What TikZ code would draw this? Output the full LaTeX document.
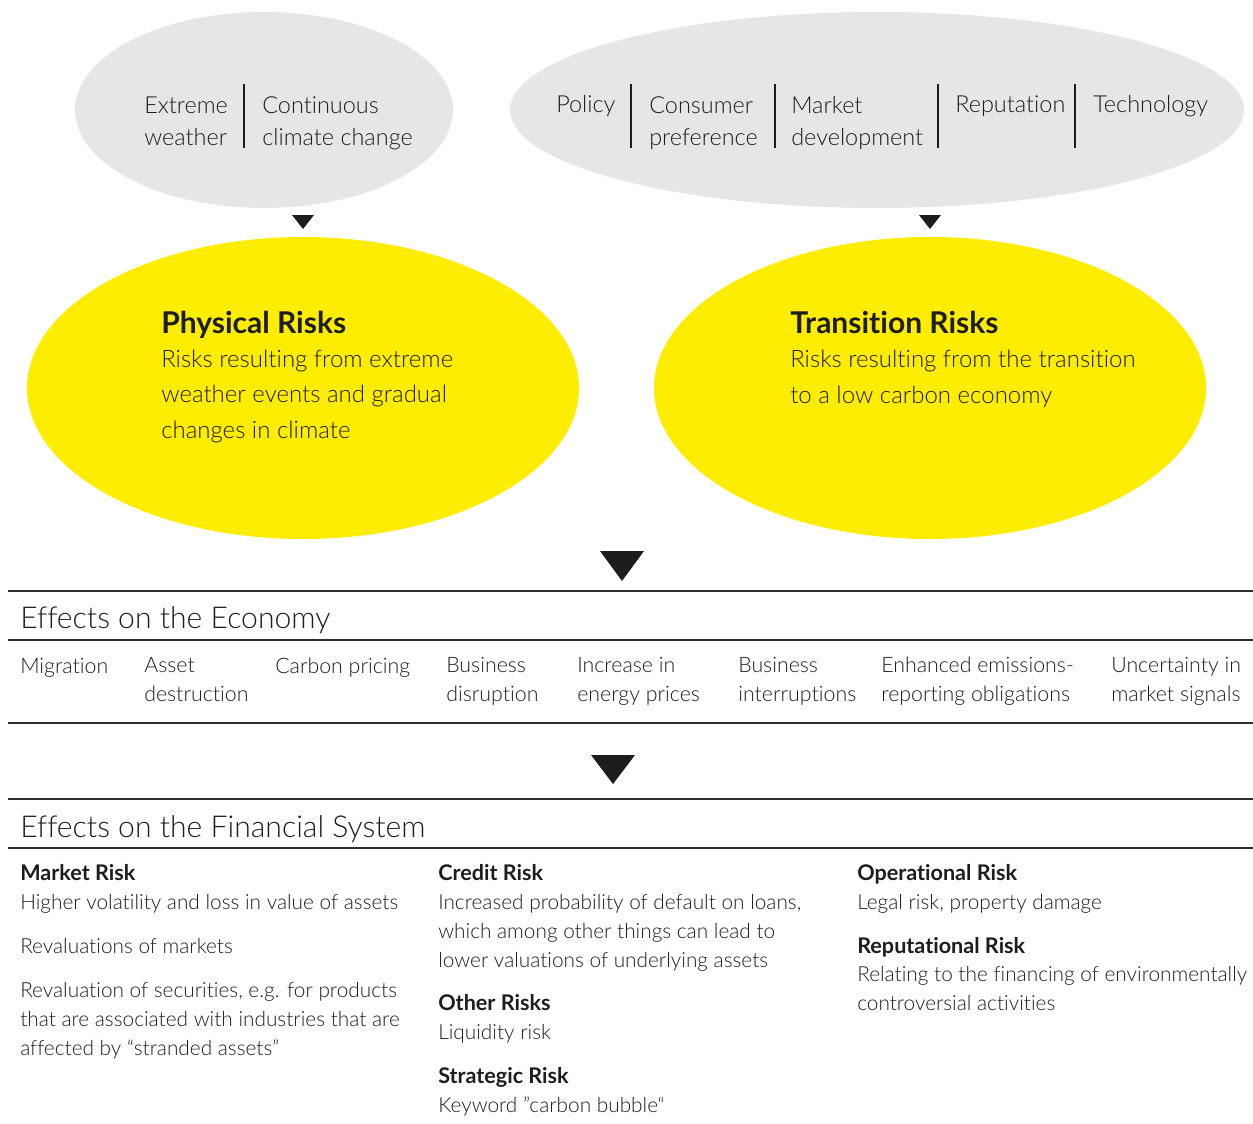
\documentclass[tikz,border=0pt]{standalone}
\usepackage{fontspec}
\setmainfont{Lato}[UprightFont=* Light, BoldFont=* Bold, Ligatures=NoCommon]
\usetikzlibrary{shapes.geometric}
\definecolor{ink}{HTML}{1D1D1B}
\definecolor{rule}{HTML}{2E2E2E}
\definecolor{greyfill}{HTML}{E5E6E8}
\definecolor{yel}{HTML}{FFED00}
\begin{document}
\begin{tikzpicture}[x=0.75pt,y=-0.75pt,
  blob/.style={ellipse, inner sep=0, draw=none},
  src/.style={anchor=base west, inner sep=0, text=ink, align=left, font=\fontsize{17.6}{24}\selectfont},
  risktitle/.style={anchor=base west, inner sep=0, text=ink, font=\bfseries\fontsize{22.5}{27}\selectfont},
  riskbody/.style={anchor=base west, inner sep=0, text=ink, align=left, font=\fontsize{18}{26.5}\selectfont},
  head/.style={anchor=base west, inner sep=0, text=ink, font=\fontsize{22.6}{27}\selectfont},
  item/.style={anchor=base west, inner sep=0, text=ink, align=left, font=\fontsize{16}{21.5}\selectfont},
  fhead/.style={anchor=base west, inner sep=0, text=ink, font=\bfseries\fontsize{16.2}{21.75}\selectfont},
  fbody/.style={anchor=base west, inner sep=0, text=ink, align=left, font=\fontsize{15.6}{21.75}\selectfont},
  sep/.style={draw=ink, line width=0.8pt},
  hrule/.style={draw=rule, line width=1.9pt},
  tri/.style={fill=ink}
]
\useasboundingbox (0,0) rectangle (1253,1124);

% top ellipses
\node[blob, fill=greyfill, minimum width=283.5pt, minimum height=147pt] (phsrc) at (264,110) {};
\node[blob, fill=greyfill, minimum width=550.5pt, minimum height=147pt] (trsrc) at (877,110) {};

% multi-line nodes: base anchor = last line's baseline
\node[src] (s1) at (144,145) {Extreme\\weather};
\node[src] (s2) at (262,145) {Continuous\\climate change};
\draw[sep] (244,84) -- (244,148);

\node[src] (s3) at (556,113) {Policy};
\node[src] (s4) at (649,145) {Consumer\\preference};
\node[src] (s5) at (791,145) {Market\\development};
\node[src] (s6) at (955,113) {Reputation};
\node[src] (s7) at (1093,113) {Technology};
\draw[sep] (631,84) -- (631,148);
\draw[sep] (775,84) -- (775,148);
\draw[sep] (938,84) -- (938,148);
\draw[sep] (1075,84) -- (1075,148);

% small triangles
\fill[tri] (292,215) -- (314,215) -- (303,229) -- cycle;
\fill[tri] (919,215) -- (941,215) -- (930,229) -- cycle;

% yellow ellipses
\node[blob, fill=yel, minimum width=414pt, minimum height=226.5pt] (phys) at (303,388) {};
\node[blob, fill=yel, minimum width=414pt, minimum height=226.5pt] (trans) at (930,388) {};

\node[risktitle] (pt) at (161,333) {Physical Risks};
\node[riskbody] (pb) at (161,438) {Risks resulting from extreme\\weather events and gradual\\changes in climate};
\node[risktitle] (tt) at (790,333) {Transition Risks};
\node[riskbody] (tb) at (790,403) {Risks resulting from the transition\\to a low carbon economy};

% big triangle 1
\fill[tri] (600,551) -- (644,551) -- (622,581) -- cycle;

% Economy
\draw[hrule] (8,591) -- (1253,591);
\node[head] (eh) at (20,628) {Effects on the Economy};
\draw[hrule] (8,640) -- (1253,640);
\node[item] (e1) at (20,673) {Migration};
\node[item] (e2) at (144,701) {Asset\\destruction};
\node[item] (e3) at (275,673) {Carbon pricing};
\node[item] (e4) at (446,701) {Business\\disruption};
\node[item] (e5) at (577,701) {Increase in\\energy prices};
\node[item] (e6) at (738,701) {Business\\interruptions};
\node[item] (e7) at (881,701) {Enhanced emissions-\\reporting obligations};
\node[item] (e8) at (1111,701) {Uncertainty in\\market signals};
\draw[hrule] (8,723) -- (1253,723);

% big triangle 2
\fill[tri] (591,755) -- (635,755) -- (613,784) -- cycle;

% Financial system
\draw[hrule] (8,799) -- (1253,799);
\node[head] (fh) at (20,837) {Effects on the Financial System};
\draw[hrule] (8,848) -- (1253,848);

\node[fhead] (m0) at (20,880) {Market Risk};
\node[fbody] (m1) at (20,909) {Higher volatility and loss in value of assets};
\node[fbody] (m2) at (20,953) {Revaluations of markets};
\node[fbody] (m3) at (20,1055) {Revaluation of securities, e.g. for products\\that are associated with industries that are\\affected by “stranded assets”};

\node[fhead] (c0) at (438,880) {Credit Risk};
\node[fbody] (c1) at (438,967) {Increased probability of default on loans,\\which among other things can lead to\\lower valuations of underlying assets};
\node[fhead] (o0) at (438,1010) {Other Risks};
\node[fbody] (o1) at (438,1039) {Liquidity risk};
\node[fhead] (g0) at (438,1083) {Strategic Risk};
\node[fbody] (g1) at (438,1112) {Keyword ”carbon bubble“};

\node[fhead] (p0) at (857,880) {Operational Risk};
\node[fbody] (p1) at (857,909) {Legal risk, property damage};
\node[fhead] (r0) at (857,953) {Reputational Risk};
\node[fbody] (r1) at (857,1010) {Relating to the financing of environmentally\\controversial activities};
\end{tikzpicture}
\end{document}
